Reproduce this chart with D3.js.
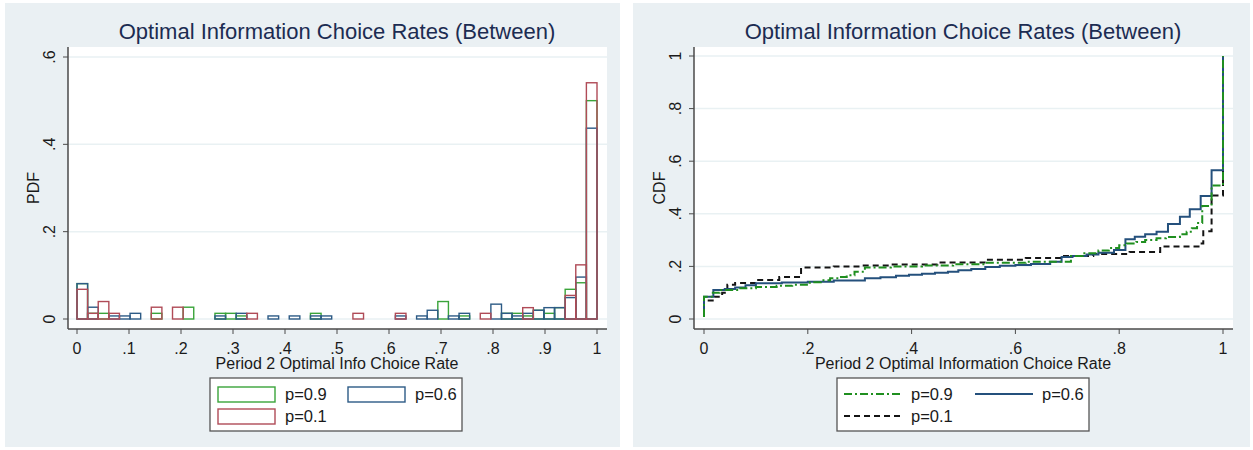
<!DOCTYPE html>
<html>
<head>
<meta charset="utf-8">
<script src="https://d3js.org/d3.v7.min.js"></script>
<style>
  body { margin: 0; background: #fff; }
  text { font-family: "Liberation Sans", Arial, sans-serif; }
</style>
</head>
<body>
<div id="chart"></div>
<script>
// Common dimensions
const width = 1253, height = 450;

// Histogram: share of subjects per bin (49 bins on [0,1])
const nBins = 49;
const pdf09 = [0.081, 0.013, 0.013, 0, 0, 0, 0, 0.013, 0, 0, 0.027, 0, 0, 0.013, 0.013, 0.007, 0, 0, 0, 0, 0, 0, 0.013, 0, 0,
               0, 0, 0, 0, 0, 0, 0, 0, 0, 0.040, 0, 0.007, 0, 0, 0, 0.013, 0.013, 0.007, 0.020, 0.013, 0.026, 0.068, 0.083, 0.500];
const pdf06 = [0.081, 0.027, 0, 0.007, 0.007, 0.013, 0, 0, 0, 0, 0, 0, 0, 0.007, 0, 0.013, 0, 0, 0.007, 0, 0.007, 0, 0.007, 0.007, 0,
               0, 0, 0, 0, 0, 0.007, 0, 0.007, 0.020, 0, 0.007, 0.013, 0, 0, 0.034, 0.013, 0.007, 0.013, 0.020, 0.026, 0.026, 0.049, 0.096, 0.437];
const pdf01 = [0.068, 0.013, 0.040, 0.013, 0, 0, 0, 0.027, 0, 0.027, 0, 0, 0, 0, 0, 0, 0.013, 0, 0, 0, 0, 0, 0, 0, 0,
               0, 0.013, 0, 0, 0, 0.013, 0, 0, 0, 0, 0, 0, 0, 0.013, 0, 0, 0, 0.026, 0, 0, 0, 0.054, 0.124, 0.541];

// Empirical CDFs (step points)
const cdfX09 = [0, 0, 0.015, 0.03, 0.07, 0.1, 0.14, 0.17, 0.204, 0.225, 0.243, 0.26, 0.275, 0.29, 0.31, 0.36, 0.42, 0.48, 0.545, 0.62, 0.707, 0.73, 0.76, 0.78,
                0.8, 0.815, 0.833, 0.85, 0.872, 0.89, 0.917, 0.93, 0.94, 0.95, 0.96, 0.978, 1];
const cdfY09 = [0.008, 0.085, 0.1, 0.11, 0.117, 0.122, 0.126, 0.13, 0.14, 0.147, 0.155, 0.16, 0.166, 0.18, 0.196, 0.2, 0.203, 0.208, 0.214, 0.218, 0.24, 0.25, 0.26, 0.27,
                0.28, 0.287, 0.293, 0.3, 0.307, 0.312, 0.322, 0.332, 0.345, 0.365, 0.43, 0.508, 1];
const cdfX06 = [0, 0, 0.018, 0.04, 0.06, 0.08, 0.1, 0.15, 0.2, 0.25, 0.31, 0.34, 0.37, 0.395, 0.42, 0.445, 0.47, 0.49, 0.515, 0.542, 0.57, 0.6, 0.63, 0.667, 0.689, 0.71,
                0.737, 0.76, 0.79, 0.812, 0.83, 0.85, 0.872, 0.894, 0.917, 0.936, 0.957, 0.978, 1];
const cdfY06 = [0.008, 0.085, 0.11, 0.114, 0.12, 0.128, 0.136, 0.139, 0.142, 0.146, 0.155, 0.159, 0.164, 0.168, 0.172, 0.176, 0.18, 0.185, 0.19, 0.198, 0.202, 0.205, 0.209, 0.218, 0.236, 0.24,
                0.245, 0.252, 0.262, 0.303, 0.313, 0.322, 0.332, 0.361, 0.389, 0.417, 0.468, 0.566, 1];
const cdfX01 = [0, 0, 0.02, 0.035, 0.045, 0.06, 0.1, 0.145, 0.187, 0.25, 0.3, 0.36, 0.45, 0.545, 0.62, 0.686, 0.75, 0.82, 0.879, 0.956, 0.962, 0.978, 1];
const cdfY01 = [0.008, 0.07, 0.085, 0.1, 0.13, 0.137, 0.148, 0.16, 0.196, 0.2, 0.203, 0.207, 0.215, 0.225, 0.232, 0.24, 0.247, 0.255, 0.276, 0.287, 0.334, 0.47, 1];

// Ticks and labels
const pdfXTicks = [0, 0.1, 0.2, 0.3, 0.4, 0.5, 0.6, 0.7, 0.8, 0.9, 1];
const pdfYTicks = [0, 0.2, 0.4, 0.6];
const cdfXTicks = [0, 0.2, 0.4, 0.6, 0.8, 1];
const cdfYTicks = [0, 0.2, 0.4, 0.6, 0.8, 1];
const titleText = "Optimal Information Choice Rates (Between)";
const seriesNames = ["p=0.9", "p=0.6", "p=0.1"];

const fmt = d => d === 0 || d === 1 ? String(d) : String(d).replace(/^0/, "");

const svg = d3.select("#chart").append("svg")
    .attr("width", width).attr("height", height);

const bgColor = "#eaf0f3", gridColor = "#e9f1f3", axisColor = "#4a4a4a";
const textColor = "#1a1a1a", titleColor = "#1c2c52";

// Panel frame: background, plot region, gridlines, axes, labels
function drawFrame(p, x, y, xTicks, yTicks, yTitle, xTitle) {
    const g = svg.append("g");
    g.append("rect").attr("x", p.left).attr("y", 3).attr("width", p.right - p.left).attr("height", 444)
        .attr("fill", bgColor);
    g.append("rect").attr("x", p.axisX).attr("y", 47).attr("width", p.plotRight - p.axisX).attr("height", 282)
        .attr("fill", "#fff");

    g.selectAll(".grid").data(yTicks).join("line")
        .attr("x1", p.axisX).attr("x2", p.plotRight)
        .attr("y1", d => y(d)).attr("y2", d => y(d))
        .attr("stroke", gridColor).attr("stroke-width", 1.5);

    // y axis
    g.append("line").attr("x1", p.axisX).attr("x2", p.axisX).attr("y1", 47).attr("y2", 329)
        .attr("stroke", axisColor).attr("stroke-width", 1.5);
    g.selectAll(".yt").data(yTicks).join("line")
        .attr("x1", p.axisX - 5).attr("x2", p.axisX)
        .attr("y1", d => y(d)).attr("y2", d => y(d))
        .attr("stroke", axisColor);
    g.selectAll(".yl").data(yTicks).join("text")
        .attr("transform", d => `translate(${p.axisX - 19},${y(d)}) rotate(-90)`)
        .attr("text-anchor", "middle").attr("dy", "0.35em")
        .attr("font-size", 16).attr("fill", textColor)
        .text(fmt);
    g.append("text")
        .attr("transform", `translate(${p.axisX - 35},188) rotate(-90)`)
        .attr("text-anchor", "middle").attr("dy", "0.35em")
        .attr("font-size", 16).attr("fill", textColor)
        .text(yTitle);

    // x axis
    g.append("line").attr("x1", p.axisX).attr("x2", p.plotRight).attr("y1", 329).attr("y2", 329)
        .attr("stroke", axisColor).attr("stroke-width", 1.5);
    g.selectAll(".xt").data(xTicks).join("line")
        .attr("x1", d => x(d)).attr("x2", d => x(d))
        .attr("y1", 329).attr("y2", 334)
        .attr("stroke", axisColor);
    g.selectAll(".xl").data(xTicks).join("text")
        .attr("x", d => x(d)).attr("y", 354)
        .attr("text-anchor", "middle")
        .attr("font-size", 16).attr("fill", textColor)
        .text(fmt);
    g.append("text")
        .attr("x", p.titleX).attr("y", 369)
        .attr("text-anchor", "middle")
        .attr("font-size", 16).attr("fill", textColor)
        .text(xTitle);

    // title
    g.append("text")
        .attr("x", p.titleX).attr("y", 39)
        .attr("text-anchor", "middle")
        .attr("font-size", 22).attr("fill", titleColor)
        .text(titleText);

    // legend box
    g.append("rect").attr("x", p.legX).attr("y", 378).attr("width", 252).attr("height", 53)
        .attr("fill", "#fff").attr("stroke", "#555").attr("stroke-width", 1.3);
    return g;
}

// Histogram panel
function drawPDF() {
    const p = { left: 5, right: 620, axisX: 68, plotRight: 607, titleX: 337, legX: 210 };
    const x = d3.scaleLinear().domain([0, 1]).range([77, 597]);
    const y = d3.scaleLinear().domain([0, 0.6]).range([319, 57]);
    const g = drawFrame(p, x, y, pdfXTicks, pdfYTicks, "PDF", "Period 2 Optimal Info Choice Rate");

    const colors = ["#3aa43a", "#2d5b86", "#b04b57"];
    const series = [pdf09, pdf06, pdf01];
    const bw = 1 / nBins;

    series.forEach((vals, k) => {
        g.append("g").selectAll("rect")
            .data(vals.map((v, i) => ({ i, v })).filter(d => d.v > 0))
            .join("rect")
            .attr("x", d => x(d.i * bw))
            .attr("width", d => x((d.i + 1) * bw) - x(d.i * bw))
            .attr("y", d => y(d.v))
            .attr("height", d => y(0) - y(d.v))
            .attr("fill", "none")
            .attr("stroke", colors[k])
            .attr("stroke-width", 1.4);
    });

    // legend keys
    const keys = [
        { name: seriesNames[0], c: colors[0], kx: 218, ky: 387 },
        { name: seriesNames[1], c: colors[1], kx: 348, ky: 387 },
        { name: seriesNames[2], c: colors[2], kx: 218, ky: 409 }
    ];
    keys.forEach(d => {
        g.append("rect").attr("x", d.kx).attr("y", d.ky).attr("width", 57).attr("height", 15)
            .attr("fill", "none").attr("stroke", d.c).attr("stroke-width", 1.4);
        g.append("text").attr("x", d.kx + 67).attr("y", d.ky + 13)
            .attr("font-size", 16.5).attr("fill", textColor).text(d.name);
    });
}

// CDF panel
function drawCDF() {
    const p = { left: 633, right: 1250, axisX: 694, plotRight: 1233, titleX: 963, legX: 837 };
    const x = d3.scaleLinear().domain([0, 1]).range([704, 1223]);
    const y = d3.scaleLinear().domain([0, 1]).range([319, 56]);
    const g = drawFrame(p, x, y, cdfXTicks, cdfYTicks, "CDF", "Period 2 Optimal Information Choice Rate");

    const styles = [
        { xs: cdfX09, ys: cdfY09, c: "#1f8f1f", dash: "8,3,2,3", w: 2 },
        { xs: cdfX01, ys: cdfY01, c: "#141414", dash: "6,4", w: 2 },
        { xs: cdfX06, ys: cdfY06, c: "#24507c", dash: null, w: 2 }
    ];
    const line = d3.line().x(d => x(d[0])).y(d => y(d[1])).curve(d3.curveStepAfter);

    // draw order: p=0.1, p=0.6, p=0.9 on top
    [styles[1], styles[2], styles[0]].forEach(s => {
        g.append("path")
            .datum(s.xs.map((v, i) => [v, s.ys[i]]))
            .attr("d", line)
            .attr("fill", "none")
            .attr("stroke", s.c)
            .attr("stroke-width", s.w)
            .attr("stroke-dasharray", s.dash);
    });

    const keys = [
        { name: seriesNames[0], s: styles[0], kx: 844, ky: 394 },
        { name: seriesNames[1], s: styles[2], kx: 975, ky: 394 },
        { name: seriesNames[2], s: styles[1], kx: 844, ky: 416 }
    ];
    keys.forEach(d => {
        g.append("line").attr("x1", d.kx).attr("x2", d.kx + 58).attr("y1", d.ky).attr("y2", d.ky)
            .attr("stroke", d.s.c).attr("stroke-width", d.s.w).attr("stroke-dasharray", d.s.dash);
        g.append("text").attr("x", d.kx + 67).attr("y", d.ky + 6)
            .attr("font-size", 16.5).attr("fill", textColor).text(d.name);
    });
}

drawPDF();
drawCDF();
</script>
</body>
</html>
